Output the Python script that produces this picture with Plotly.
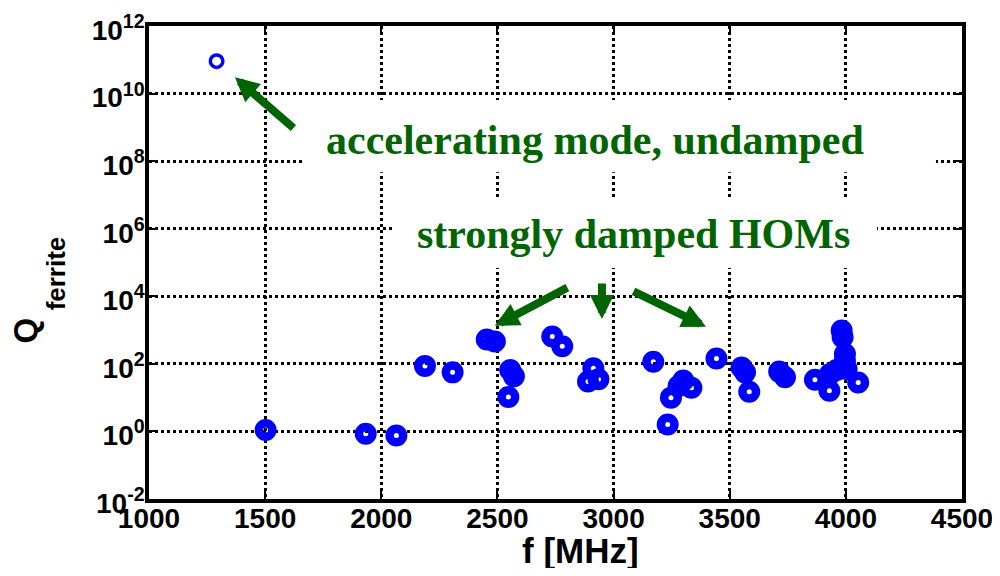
import plotly.graph_objects as go

# ---- data ----
accel_f = [1291]
accel_q = [9.1e10]

hom_f = [1502, 1933, 2065, 2188, 2307, 2454, 2489, 2547, 2555, 2571,
         2736, 2779, 2913, 2890, 2935, 3171, 3247, 3233, 3280, 3300,
         3335, 3443, 3551, 3566, 3584, 3713, 3738, 3867, 3929, 3932,
         3960, 4003, 3996, 3996, 3982, 3986, 4053]
hom_q = [1.1, 0.85, 0.76, 87, 56, 525, 457, 10.5, 66, 43,
         646, 331, 74, 30, 35, 115, 10, 1.6, 22, 32,
         19.5, 145, 78, 56, 15, 59, 40, 34, 16, 50,
         66, 71, 195, 126, 977, 617, 28]

x_ticks = [1000, 1500, 2000, 2500, 3000, 3500, 4000, 4500]
x_ticktext = [str(v) for v in x_ticks]
y_exponents = [-2, 0, 2, 4, 6, 8, 10, 12]
y_ticks = [10.0 ** e for e in y_exponents]
y_ticktext = ["10<sup>%d</sup>" % e for e in y_exponents]

label_accel = "accelerating mode, undamped"
label_hom = "strongly damped HOMs"
x_title = "f [MHz]"
y_title_main = "Q"
y_title_sub = "ferrite"

# ---- styling ----
BLUE = "#0000ff"
GREEN = "#006400"
SANS = "Liberation Sans"
SERIF = "Liberation Serif"

fig = go.Figure()
fig.add_trace(go.Scatter(
    x=hom_f, y=hom_q, mode="markers",
    marker=dict(symbol="circle-open", size=13.5, color=BLUE,
                line=dict(width=8.5, color=BLUE)),
    showlegend=False, hoverinfo="x+y"))
fig.add_trace(go.Scatter(
    x=accel_f, y=accel_q, mode="markers",
    marker=dict(symbol="circle-open", size=12.5, color=BLUE,
                line=dict(width=3.5, color=BLUE)),
    showlegend=False, hoverinfo="x+y"))

axis_common = dict(
    showline=True, linecolor="black", linewidth=3.5, mirror="ticks",
    ticks="inside", ticklen=8, tickwidth=2, tickcolor="black",
    showgrid=True, gridcolor="black", gridwidth=2.5, griddash="dot",
    zeroline=False, automargin=False, ticklabeloverflow="allow",
    tickfont=dict(family=SANS, size=28, color="black", weight="bold"),
)

fig.update_xaxes(range=[1000, 4500], tickmode="array", tickvals=x_ticks,
                 ticktext=x_ticktext, ticklabelstandoff=-8, **axis_common)
fig.update_yaxes(type="log", range=[-2, 12], tickmode="array",
                 tickvals=y_ticks, ticktext=y_ticktext,
                 ticklabelshift=4, ticklabelstandoff=-5, **axis_common)

# white boxes behind the labels (cover gridlines)
for x0, x1, y0, y1 in [(0.1894, 0.968, 0.691, 0.8436),
                       (0.300, 0.8955, 0.4884, 0.6385)]:
    fig.add_shape(type="rect", xref="paper", yref="paper",
                  x0=x0, x1=x1, y0=y0, y1=y1,
                  fillcolor="white", line=dict(width=0), layer="above")

serif_font = dict(family=SERIF, size=42, color=GREEN, weight="bold")
fig.add_annotation(text=label_accel, xref="paper", yref="paper",
                   x=0.549, y=0.759, showarrow=False, font=serif_font,
                   xanchor="center", yanchor="middle")
fig.add_annotation(text=label_hom, xref="paper", yref="paper",
                   x=0.596, y=0.560, showarrow=False, font=serif_font,
                   xanchor="center", yanchor="middle")

# arrows (tip in data coords, tail offset in pixels)
arrows = [(1370, 10.48, 60, 52),
          (2489, 3.125, 74, -39),
          (2950, 3.33, 0, -37),
          (3398, 3.10, -74, -36)]
for tip_x, tip_logy, dx, dy in arrows:
    fig.add_annotation(x=tip_x, y=tip_logy, text="", showarrow=True,
                       arrowhead=2, arrowsize=0.6, arrowwidth=8,
                       arrowcolor=GREEN, ax=dx, ay=dy, standoff=0)

# axis titles
fig.add_annotation(text=x_title, xref="paper", yref="paper",
                   x=0.531, y=-0.109, showarrow=False, borderpad=0,
                   font=dict(family=SANS, size=35, color="black", weight="bold"),
                   xanchor="center", yanchor="middle")
fig.add_annotation(text=y_title_main, xref="paper", yref="paper",
                   x=-0.152, y=0.357, showarrow=False, textangle=-90,
                   borderpad=0,
                   font=dict(family=SANS, size=33, color="black", weight="bold"),
                   xanchor="center", yanchor="middle")
fig.add_annotation(text=y_title_sub, xref="paper", yref="paper",
                   x=-0.1144, y=0.477, showarrow=False, textangle=-90,
                   borderpad=0,
                   font=dict(family=SANS, size=26, color="black", weight="bold"),
                   xanchor="center", yanchor="middle")

# page body has an 8px default margin on each side, so the figure is
# 984x560 to fill the 1000x576 window without scrollbars
fig.update_layout(
    width=984, height=560,
    margin=dict(l=141, r=30, t=18, b=69),
    paper_bgcolor="white", plot_bgcolor="white",
)

fig.write_html("out.html")
